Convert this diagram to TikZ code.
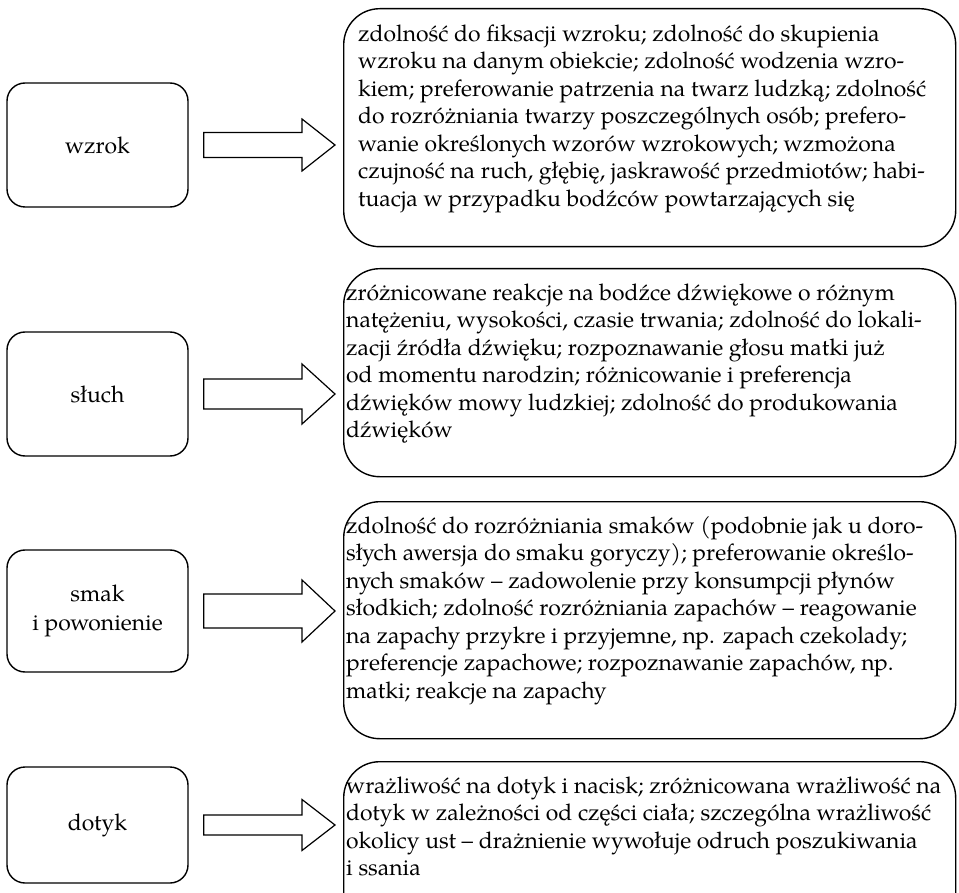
\documentclass[tikz,border=0pt]{standalone}
\usepackage{fontspec}
\setmainfont{texgyrepagella}[Extension=.otf,UprightFont=*-regular,BoldFont=*-bold,ItalicFont=*-italic,BoldItalicFont=*-bolditalic]
\usetikzlibrary{calc}

% block arrow between a sense box and its description panel:
% #1 source node, #2 target node, #3 shaft half-height, #4 head half-height
\newcommand\sensearrow[4]{%
  \draw[arrowline] let \p1=(#1.east), \p2=(#2.west) in
    (\x1+15pt,\y1+#3) -- (\x2-41pt,\y1+#3) -- (\x2-41pt,\y1+#4) -- (\x2-8pt,\y1)
    -- (\x2-41pt,\y1-#4) -- (\x2-41pt,\y1-#3) -- (\x1+15pt,\y1-#3) -- cycle;}

\begin{document}
\begin{tikzpicture}[x=1pt,y=-1pt,
  sense/.style={draw, line width=1.4pt, rounded corners=18pt, minimum width=181pt,
    inner sep=0pt, align=center, font=\fontsize{22.9}{28.5}\selectfont},
  panel/.style={draw, line width=1.4pt, rounded corners=36pt, inner sep=0pt,
    anchor=north west, minimum width=612pt},
  paneltext/.style={anchor=north west, inner sep=0pt, align=left,
    font=\fontsize{22.9}{27.5}\selectfont},
  arrowline/.style={line width=1.2pt, line join=miter, fill=white}]

\fill[white] (0,0) rectangle (959,893);
\useasboundingbox (0,0) rectangle (959,893);

% senses
\node[sense, minimum height=124pt] (wzrok) at (97.5,145) {wzrok};
\node[sense, minimum height=124pt] (sluch) at (97.5,394) {słuch};
\node[sense, minimum height=122pt] (smak)  at (97.5,611) {smak\\i powonienie};
\node[sense, minimum height=116pt] (dotyk) at (97.5,825) {dotyk};

% description panels
\node[panel, minimum height=238pt] (p1) at (343,8) {};
\node[panel, minimum height=208pt] (p2) at (343,268) {};
\node[panel, minimum height=237pt] (p3) at (343,501) {};
\node[panel, minimum height=170pt] (p4) at (343,761) {};

\node[paneltext] (t1) at (358,22) {\strut zdolność do fiksacji wzroku; zdolność do skupienia\\
wzroku na danym obiekcie; zdolność wodzenia wzro-\\
kiem; preferowanie patrzenia na twarz ludzką; zdolność\\
do rozróżniania twarzy poszczególnych osób; prefero-\\
wanie określonych wzorów wzrokowych; wzmożona\\
czujność na ruch, głębię, jaskrawość przedmiotów; habi-\\
tuacja w przypadku bodźców powtarzających się};

\node[paneltext] (t2) at (346,281) {\strut zróżnicowane reakcje na bodźce dźwiękowe o różnym\\
natężeniu, wysokości, czasie trwania; zdolność do lokali-\\
zacji źródła dźwięku; rozpoznawanie głosu matki już\\
od momentu narodzin; różnicowanie i preferencja\\
dźwięków mowy ludzkiej; zdolność do produkowania\\
dźwięków};

\node[paneltext] (t3) at (346,514) {\strut zdolność do rozróżniania smaków (podobnie jak u doro-\\
słych awersja do smaku goryczy); preferowanie określo-\\
nych smaków – zadowolenie przy konsumpcji płynów\\
słodkich; zdolność rozróżniania zapachów – reagowanie\\
na zapachy przykre i przyjemne, np. zapach czekolady;\\
preferencje zapachowe; rozpoznawanie zapachów, np.\\
matki; reakcje na zapachy};

\node[paneltext] (t4) at (346,774) {\strut wrażliwość na dotyk i nacisk; zróżnicowana wrażliwość na\\
dotyk w zależności od części ciała; szczególna wrażliwość\\
okolicy ust – drażnienie wywołuje odruch poszukiwania\\
i ssania};

% arrows from each sense to its panel
\sensearrow{wzrok}{p1}{12.5pt}{26pt}
\sensearrow{sluch}{p2}{15pt}{30pt}
\sensearrow{smak}{p3}{17pt}{31pt}
\sensearrow{dotyk}{p4}{10pt}{25.5pt}
\end{tikzpicture}
\end{document}
